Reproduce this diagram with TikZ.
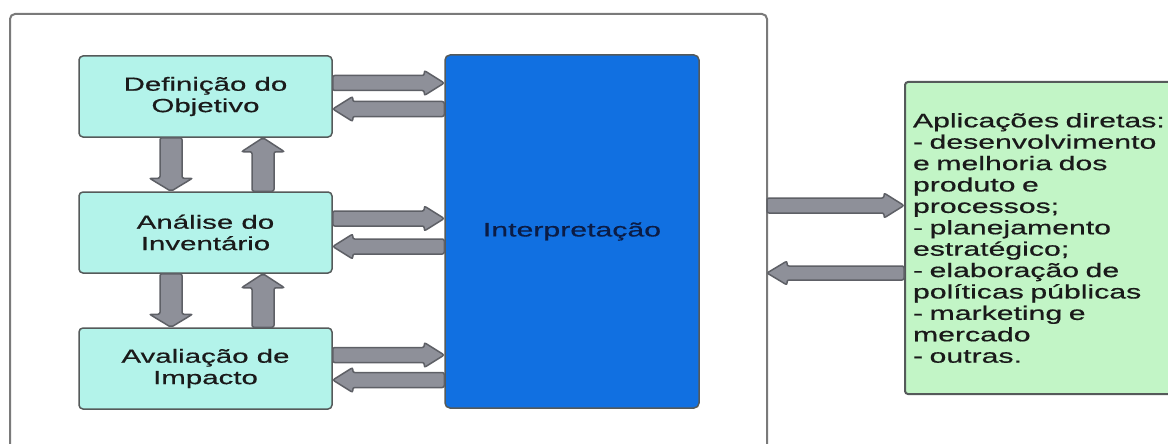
\documentclass[tikz,border=0pt]{standalone}
\usepackage{fontspec}
\setmainfont{Liberation Sans}[FakeStretch=1.55,FakeBold=0.6]
\usetikzlibrary{calc}
\definecolor{cyanbox}{HTML}{B3F3EA}
\definecolor{bluebox}{HTML}{1170E1}
\definecolor{greenbox}{HTML}{C2F5C6}
\definecolor{arrfill}{HTML}{8E9099}
\definecolor{arrdraw}{HTML}{5E6066}
\definecolor{framec}{HTML}{7A7A7A}
\definecolor{boxline}{HTML}{555A5A}
\definecolor{navy}{HTML}{0B1C45}
\definecolor{textc}{HTML}{1A1A1A}

\newcommand\fatarrow[5]{% #1 half shaft, #2 half head, #3 head length, #4 from, #5 to
  \draw[fat] let \p1=(#4), \p2=(#5), \n1={atan2(\y2-\y1,\x2-\x1)}, \n2={veclen(\x2-\x1,\y2-\y1)} in
   [shift={(\p1)}, rotate=\n1]
   (0pt,-#1pt) -- ({\n2*1pt-#3pt},-#1pt) -- ({\n2*1pt-#3pt},-#2pt) -- ({\n2*1pt},0pt)
   -- ({\n2*1pt-#3pt},#2pt) -- ({\n2*1pt-#3pt},#1pt) -- (0pt,#1pt) -- cycle;}

\tikzset{
  cbox/.style={draw=boxline, fill=cyanbox, rounded corners=4pt, line width=1.5pt,
    minimum width=253pt, minimum height=81pt, align=center, inner sep=0pt,
    font=\fontsize{19}{21.4}\selectfont, text=textc},
  bbox/.style={draw=boxline, fill=bluebox, rounded corners=5pt, line width=1.5pt,
    minimum width=254pt, minimum height=353pt, inner sep=0pt,
    font=\fontsize{19.5}{21.4}\selectfont, text=navy},
  gbox/.style={draw=boxline, fill=greenbox, rounded corners=3pt, line width=2pt,
    minimum width=300pt, minimum height=312pt, text width=284pt, inner xsep=8pt,
    align=left, font=\fontsize{19.5}{21.4}\selectfont, text=textc},
  fat/.style={fill=arrfill, draw=arrdraw, line width=1.5pt, rounded corners=2pt},
  frame/.style={draw=framec, line width=2pt, rounded corners=5pt}
}

\begin{document}
\begin{tikzpicture}[x=1pt, y=-1pt]
\useasboundingbox (0,0) rectangle (1168,444);
\fill[white] (0,0) rectangle (1168,444);

\draw[frame] (10,470) -- (10,14) -- (767,14) -- (767,470);

\node[cbox] (def) at (205.5,96.5) {Definição do\\Objetivo};
\node[cbox] (ana) at (205.5,232.5) {Análise do\\Inventário};
\node[cbox] (ava) at (205.5,368.5) {Avaliação de\\Impacto};
\node[bbox] (interp) at (572,231.5) {Interpretação};
\node[gbox, anchor=west] (app) at (904,238) {Aplicações diretas:\\- desenvolvimento\\e melhoria dos\\produto e\\processos;\\- planejamento\\estratégico;\\- elaboração de\\políticas públicas\\- marketing e\\mercado\\- outras.};

% horizontal arrows boxes <-> interpretation
\coordinate (r1) at ([yshift=13.5pt]def.east);
\coordinate (l1) at ([yshift=-12.5pt]def.east);
\coordinate (r2) at ([yshift=14pt]ana.east);
\coordinate (l2) at ([yshift=-14pt]ana.east);
\coordinate (r3) at ([yshift=13.5pt]ava.east);
\coordinate (l3) at ([yshift=-11.5pt]ava.east);
\fatarrow{7.5}{12.5}{20}{r1}{r1 -| interp.west}
\fatarrow{7.5}{12.5}{20}{l1 -| interp.west}{l1}
\fatarrow{7.5}{12.5}{20}{r2}{r2 -| interp.west}
\fatarrow{7.5}{12.5}{20}{l2 -| interp.west}{l2}
\fatarrow{7.5}{12.5}{20}{r3}{r3 -| interp.west}
\fatarrow{7.5}{12.5}{20}{l3 -| interp.west}{l3}

% vertical arrows
\coordinate (d1) at ([xshift=-34.5pt]def.south);
\coordinate (u1) at ([xshift=57.5pt]def.south);
\coordinate (d2) at ([xshift=-34.5pt]ana.south);
\coordinate (u2) at ([xshift=57.5pt]ana.south);
\fatarrow{11}{21.5}{13}{d1}{d1 |- ana.north}
\fatarrow{11}{21.5}{14}{u1 |- ana.north}{u1}
\fatarrow{11}{21.5}{13}{d2}{d2 |- ava.north}
\fatarrow{11}{21.5}{14}{u2 |- ava.north}{u2}

% frame <-> applications
\coordinate (fr1) at (767,205.5);
\coordinate (fr2) at (767,273);
\fatarrow{7.5}{12.5}{20}{fr1}{fr1 -| app.west}
\fatarrow{7}{12}{20}{fr2 -| app.west}{fr2}
\end{tikzpicture}
\end{document}
